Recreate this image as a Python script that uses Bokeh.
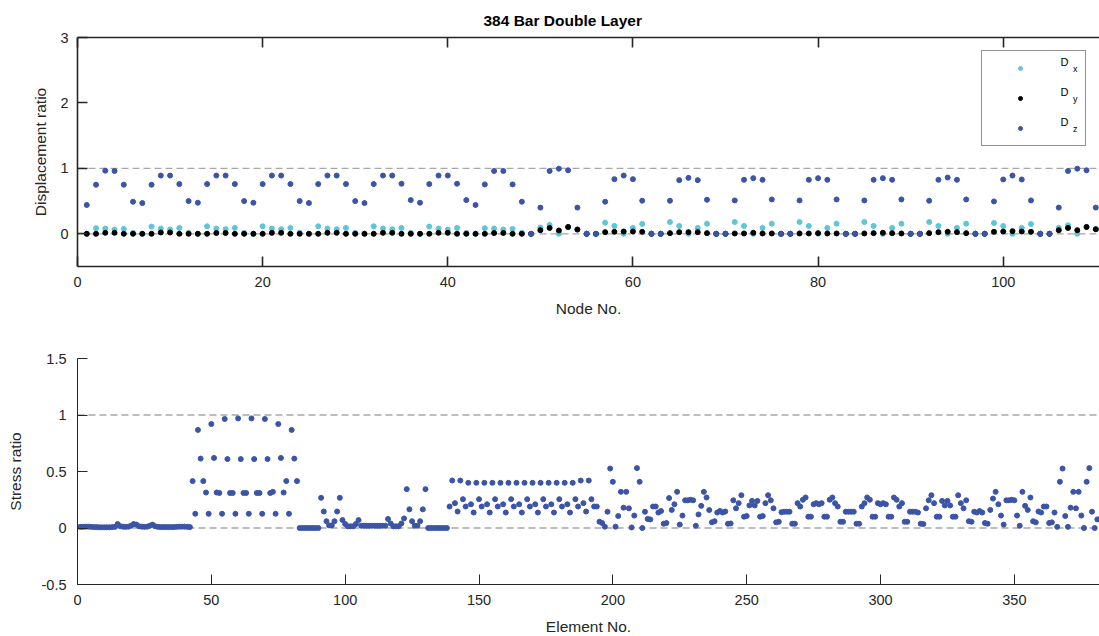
from bokeh.plotting import figure
from bokeh.models import (Range1d, LinearAxis, FixedTicker, Span, Legend,
                          LegendItem, ColumnDataSource)
from bokeh.core.properties import value
from bokeh.layouts import column
from bokeh.embed import file_html
from bokeh.resources import INLINE

FONT = "Liberation Sans"

# ---------------- data: top panel (displacement ratio per node) ----------------
nodes = list(range(1, 111))

dz = [0.44, 0.75, 0.965, 0.96, 0.75, 0.49,
      0.47, 0.75, 0.89, 0.89, 0.76, 0.50,
      0.475, 0.76, 0.89, 0.89, 0.76, 0.50,
      0.475, 0.76, 0.89, 0.89, 0.76, 0.50,
      0.47, 0.76, 0.89, 0.89, 0.76, 0.50,
      0.47, 0.76, 0.89, 0.89, 0.765, 0.515,
      0.475, 0.76, 0.89, 0.89, 0.765, 0.515,
      0.44, 0.755, 0.96, 0.96, 0.755, 0.49,
      0.0, 0.40, 0.96, 0.995, 0.97, 0.40, 0.0, 0.0,
      0.49, 0.835, 0.89, 0.835, 0.505, 0.0, 0.0,
      0.505, 0.82, 0.855, 0.82, 0.52, 0.0, 0.0,
      0.51, 0.825, 0.85, 0.825, 0.525, 0.0, 0.0,
      0.51, 0.825, 0.85, 0.825, 0.525, 0.0, 0.0,
      0.51, 0.825, 0.85, 0.825, 0.525, 0.0, 0.0,
      0.505, 0.825, 0.86, 0.825, 0.525, 0.0, 0.0,
      0.495, 0.83, 0.89, 0.83, 0.51, 0.0, 0.0,
      0.40, 0.96, 0.995, 0.97, 0.40]

dy = [0.0, 0.0, 0.015, 0.015, 0.0, 0.0,
      0.0, 0.0, 0.02, 0.02, 0.0, 0.0,
      0.0, 0.0, 0.012, 0.012, 0.0, 0.0,
      0.0, 0.0, 0.015, 0.015, 0.0, 0.0,
      0.0, 0.0, 0.015, 0.015, 0.0, 0.0,
      0.0, 0.0, 0.015, 0.015, 0.0, 0.0,
      0.0, 0.0, 0.015, 0.015, 0.0, 0.0,
      0.0, 0.0, 0.012, 0.012, 0.0, 0.0,
      0.0, 0.055, 0.09, 0.05, 0.105, 0.065, 0.0, 0.0,
      0.025, 0.03, 0.035, 0.035, 0.03, 0.0, 0.0,
      0.01, 0.025, 0.025, 0.025, 0.01, 0.0, 0.0,
      0.005, 0.005, 0.015, 0.005, 0.005, 0.0, 0.0,
      0.005, 0.005, 0.01, 0.005, 0.005, 0.0, 0.0,
      0.005, 0.01, 0.015, 0.01, 0.005, 0.0, 0.0,
      0.01, 0.025, 0.03, 0.025, 0.01, 0.0, 0.0,
      0.03, 0.035, 0.04, 0.035, 0.03, 0.0, 0.0,
      0.055, 0.09, 0.055, 0.105, 0.07]

dx = [0.0, 0.086, 0.08, 0.065, 0.075, 0.015,
      0.0, 0.11, 0.08, 0.065, 0.09, 0.015,
      0.0, 0.115, 0.08, 0.07, 0.09, 0.015,
      0.0, 0.115, 0.08, 0.07, 0.09, 0.015,
      0.0, 0.115, 0.08, 0.07, 0.09, 0.015,
      0.0, 0.115, 0.08, 0.07, 0.09, 0.015,
      0.0, 0.11, 0.08, 0.065, 0.09, 0.015,
      0.0, 0.085, 0.08, 0.065, 0.075, 0.015,
      0.0, 0.095, 0.135, 0.0, 0.10, 0.065, 0.0, 0.0,
      0.17, 0.12, 0.0, 0.09, 0.15, 0.0, 0.0,
      0.18, 0.12, 0.0, 0.09, 0.155, 0.0, 0.0,
      0.18, 0.12, 0.0, 0.09, 0.155, 0.0, 0.0,
      0.18, 0.12, 0.0, 0.09, 0.155, 0.0, 0.0,
      0.18, 0.12, 0.0, 0.09, 0.155, 0.0, 0.0,
      0.18, 0.12, 0.0, 0.09, 0.155, 0.0, 0.0,
      0.165, 0.12, 0.0, 0.09, 0.15, 0.0, 0.0,
      0.09, 0.13, 0.0, 0.10, 0.07]

# ---------------- data: bottom panel (stress ratio per element) ----------------
stress = [
    # 1-42
    0.01, 0.01, 0.012, 0.012, 0.01, 0.008, 0.008, 0.006, 0.006, 0.006,
    0.006, 0.006, 0.008, 0.01, 0.035, 0.015, 0.012, 0.01, 0.012, 0.02,
    0.035, 0.03, 0.015, 0.012, 0.01, 0.012, 0.02, 0.03, 0.015, 0.01,
    0.008, 0.008, 0.008, 0.008, 0.008, 0.008, 0.01, 0.012, 0.012, 0.012,
    0.01, 0.008,
    # 43-82
    0.415, 0.126, 0.868, 0.614, 0.415, 0.314,
    0.126, 0.92, 0.62, 0.314, 0.31,
    0.126, 0.965, 0.61, 0.31, 0.31,
    0.126, 0.97, 0.61, 0.31, 0.31,
    0.126, 0.97, 0.61, 0.31, 0.31,
    0.126, 0.965, 0.61, 0.31, 0.32,
    0.126, 0.92, 0.62, 0.314, 0.415,
    0.126, 0.868, 0.614, 0.415,
    # 83-90
    0.0, 0.0, 0.0, 0.0, 0.0, 0.0, 0.0, 0.0,
    # 91-98
    0.267, 0.146, 0.06, 0.023, 0.023, 0.06, 0.146, 0.267,
    # 99-105
    0.07, 0.035, 0.015, 0.015, 0.015, 0.035, 0.07,
    # 106-115
    0.02, 0.02, 0.02, 0.02, 0.02, 0.02, 0.02, 0.02, 0.02, 0.02,
    # 116-122
    0.08, 0.04, 0.015, 0.015, 0.015, 0.04, 0.085,
    # 123-130
    0.344, 0.165, 0.06, 0.02, 0.02, 0.06, 0.165, 0.344,
    # 131-138
    0.0, 0.0, 0.0, 0.0, 0.0, 0.0, 0.0, 0.0,
    # 139-194
    0.19,
    0.42, 0.22, 0.146, 0.42, 0.255, 0.19,
    0.40, 0.21, 0.137, 0.40, 0.255, 0.19,
    0.40, 0.21, 0.137, 0.40, 0.255, 0.19,
    0.40, 0.21, 0.137, 0.40, 0.255, 0.19,
    0.40, 0.21, 0.137, 0.40, 0.255, 0.19,
    0.40, 0.21, 0.137, 0.40, 0.255, 0.19,
    0.40, 0.21, 0.137, 0.40, 0.255, 0.19,
    0.40, 0.21, 0.137, 0.40, 0.255, 0.19,
    0.42, 0.22, 0.146, 0.42, 0.255, 0.19,
    0.19,
    # 195-244
    0.056, 0.044, 0.012, 0.144, 0.526, 0.409, 0.012, 0.106, 0.32, 0.18,
    0.32, 0.174, 0.005, 0.11, 0.53, 0.409, 0.0, 0.144, 0.08, 0.076,
    0.19, 0.19, 0.137, 0.15, 0.038, 0.044, 0.265, 0.16, 0.21, 0.32,
    0.03, 0.11, 0.245, 0.245, 0.25, 0.245, 0.02, 0.12, 0.196, 0.32,
    0.27, 0.159, 0.05, 0.06, 0.137, 0.15, 0.137, 0.146, 0.038, 0.04,
    # 245-294
    0.245, 0.174, 0.22, 0.29, 0.10, 0.106, 0.20, 0.24, 0.20, 0.24,
    0.10, 0.106, 0.22, 0.29, 0.245, 0.174, 0.05, 0.055, 0.14, 0.144,
    0.144, 0.144, 0.038, 0.038, 0.22, 0.19, 0.25, 0.27, 0.10, 0.10,
    0.21, 0.22, 0.21, 0.22, 0.10, 0.10, 0.25, 0.27, 0.22, 0.19,
    0.055, 0.055, 0.144, 0.144, 0.144, 0.144, 0.038, 0.038, 0.19, 0.22,
    # 295-344
    0.27, 0.25, 0.10, 0.10, 0.22, 0.21, 0.22, 0.21, 0.10, 0.10,
    0.27, 0.25, 0.19, 0.22, 0.055, 0.055, 0.144, 0.144, 0.144, 0.137,
    0.038, 0.035, 0.174, 0.245, 0.29, 0.22, 0.10, 0.10, 0.24, 0.20,
    0.24, 0.20, 0.10, 0.10, 0.29, 0.22, 0.174, 0.245, 0.06, 0.055,
    0.144, 0.137, 0.15, 0.137, 0.044, 0.038, 0.16, 0.26, 0.32, 0.21,
    # 345-384
    0.11, 0.03, 0.245, 0.245, 0.25, 0.245, 0.11, 0.02, 0.32, 0.196,
    0.16, 0.27, 0.06, 0.05, 0.146, 0.137, 0.19, 0.19, 0.044, 0.05,
    0.137, 0.01, 0.409, 0.526, 0.106, 0.01, 0.18, 0.32, 0.174, 0.32,
    0.11, 0.0, 0.409, 0.53, 0.144, 0.0, 0.076, 0.08, 0.19, 0.19,
]
elements = list(range(1, len(stress) + 1))

# ---------------- axes ticks / labels ----------------
node_ticks = [0, 20, 40, 60, 80, 100]
disp_ticks = [0, 1, 2, 3]
disp_tick_labels = ["0", "1", "2", "3"]
elem_ticks = [0, 50, 100, 150, 200, 250, 300, 350]
stress_ticks = [-0.5, 0, 0.5, 1, 1.5]
stress_tick_labels = ["-0.5", "0", "0.5", "1", "1.5"]
ref_lines = [0, 1]
legend_labels = ["D", "D", "D"]
legend_subs = ["x", "y", "z"]
# anchors (data units) of the legend texts drawn inside the legend box
legend_lbl_x = [106.2, 106.2, 106.2]
legend_lbl_y = [2.62, 2.162, 1.704]
legend_sub_x = [107.55, 107.55, 107.55]
legend_sub_y = [2.514, 2.056, 1.598]

C_X = "#5cc6da"
C_Y = "#000000"
C_Z = "#3b54a5"
AX = "#262626"


def style_axis(ax, lw):
    ax.axis_line_color = AX
    ax.axis_line_width = lw
    ax.major_tick_line_color = AX
    ax.major_tick_line_width = lw
    ax.major_tick_in = 10
    ax.major_tick_out = 0
    ax.minor_tick_line_color = None
    ax.major_label_text_font = FONT
    ax.major_label_text_font_size = "14.5px"
    ax.major_label_text_color = AX
    ax.axis_label_text_font = FONT
    ax.axis_label_text_font_size = "15.5px"
    ax.axis_label_text_font_style = "normal"
    ax.axis_label_text_color = AX


# ---------------- top figure ----------------
p1 = figure(frame_width=1022, frame_height=229,
            x_range=Range1d(0, 110.4), y_range=Range1d(-0.5, 3),
            output_backend="svg", toolbar_location=None,
            min_border_left=77, min_border_right=0,
            min_border_top=37, min_border_bottom=64)
p1.grid.visible = False
p1.outline_line_color = None
p1.background_fill_color = "white"
p1.border_fill_color = "white"

src1 = ColumnDataSource(dict(node=nodes, dx=dx, dy=dy, dz=dz))
for v in ref_lines:
    p1.add_layout(Span(location=v, dimension="width", line_color="#a8a8a8",
                       line_dash="7 4", line_width=1.3, level="underlay"))
rx = p1.scatter("node", "dx", source=src1, size=5, color=C_X)
ry = p1.scatter("node", "dy", source=src1, size=5, color=C_Y)
rz = p1.scatter("node", "dz", source=src1, size=5, color=C_Z)

# legend texts (D with subscript), drawn as text; the legend box is transparent
p1.text(x=legend_lbl_x, y=legend_lbl_y, text=legend_labels,
        text_font=value(FONT), text_font_size="11px",
        text_baseline="middle", text_align="left", text_color="#000000")
p1.text(x=legend_sub_x, y=legend_sub_y, text=legend_subs,
        text_font=value(FONT), text_font_size="9px",
        text_baseline="middle", text_align="left", text_color="#000000")

p1.xaxis.ticker = FixedTicker(ticks=node_ticks)
p1.yaxis.ticker = FixedTicker(ticks=disp_ticks)
p1.yaxis.major_label_overrides = dict(zip(disp_ticks, disp_tick_labels))
p1.xaxis.axis_label = "Node No."
p1.yaxis.axis_label = "Displacement ratio"
style_axis(p1.xaxis[0], 1.6)
style_axis(p1.yaxis[0], 1.6)
p1.xaxis.major_label_standoff = 10
p1.xaxis.axis_label_standoff = 10
p1.yaxis.major_label_standoff = 9
p1.yaxis.axis_label_standoff = 8

top_ax = LinearAxis(ticker=FixedTicker(ticks=node_ticks),
                    major_label_overrides={t: "" for t in node_ticks})
style_axis(top_ax, 1.6)
top_ax.major_label_text_font_size = "0px"
top_ax.major_label_standoff = 0
p1.add_layout(top_ax, "above")

p1.title.text = "384 Bar Double Layer"
p1.title.text_font = FONT
p1.title.text_font_size = "15.5px"
p1.title.text_font_style = "bold"
p1.title.text_color = "#000000"
p1.title.align = "left"
p1.title.offset = 406
p1.title.standoff = 17

legend = Legend(items=[LegendItem(label=" ", renderers=[rx]),
                       LegendItem(label=" ", renderers=[ry]),
                       LegendItem(label=" ", renderers=[rz])],
                location="top_right", margin=13, padding=7, spacing=10,
                glyph_width=62, glyph_height=10, label_height=20,
                label_width=20, label_standoff=7,
                border_line_color=AX, border_line_width=1,
                background_fill_color="white", background_fill_alpha=0.0,
                label_text_font=FONT, label_text_font_size="11px",
                label_text_color="#000000")
p1.add_layout(legend)

# ---------------- bottom figure ----------------
p2 = figure(frame_width=1022, frame_height=226,
            x_range=Range1d(0, 381.8), y_range=Range1d(-0.5, 1.5),
            output_backend="svg", toolbar_location=None,
            min_border_left=77, min_border_right=0,
            min_border_top=28, min_border_bottom=52)
p2.grid.visible = False
p2.outline_line_color = None
p2.background_fill_color = "white"
p2.border_fill_color = "white"

src2 = ColumnDataSource(dict(element=elements, stress=stress))
for v in ref_lines:
    p2.add_layout(Span(location=v, dimension="width", line_color="#a8a8a8",
                       line_dash="7 4", line_width=1.3, level="underlay"))
p2.scatter("element", "stress", source=src2, size=5, color=C_Z)

p2.xaxis.ticker = FixedTicker(ticks=elem_ticks)
p2.yaxis.ticker = FixedTicker(ticks=stress_ticks)
p2.yaxis.major_label_overrides = dict(zip(stress_ticks, stress_tick_labels))
p2.xaxis.axis_label = "Element No."
p2.yaxis.axis_label = "Stress ratio"
style_axis(p2.xaxis[0], 1.0)
style_axis(p2.yaxis[0], 1.0)
p2.xaxis.major_label_standoff = 10
p2.xaxis.axis_label_standoff = 10
p2.yaxis.major_label_standoff = 11
p2.yaxis.axis_label_standoff = 15

layout = column(p1, p2, spacing=0)
open("out.html", "w").write(file_html(layout, INLINE))
